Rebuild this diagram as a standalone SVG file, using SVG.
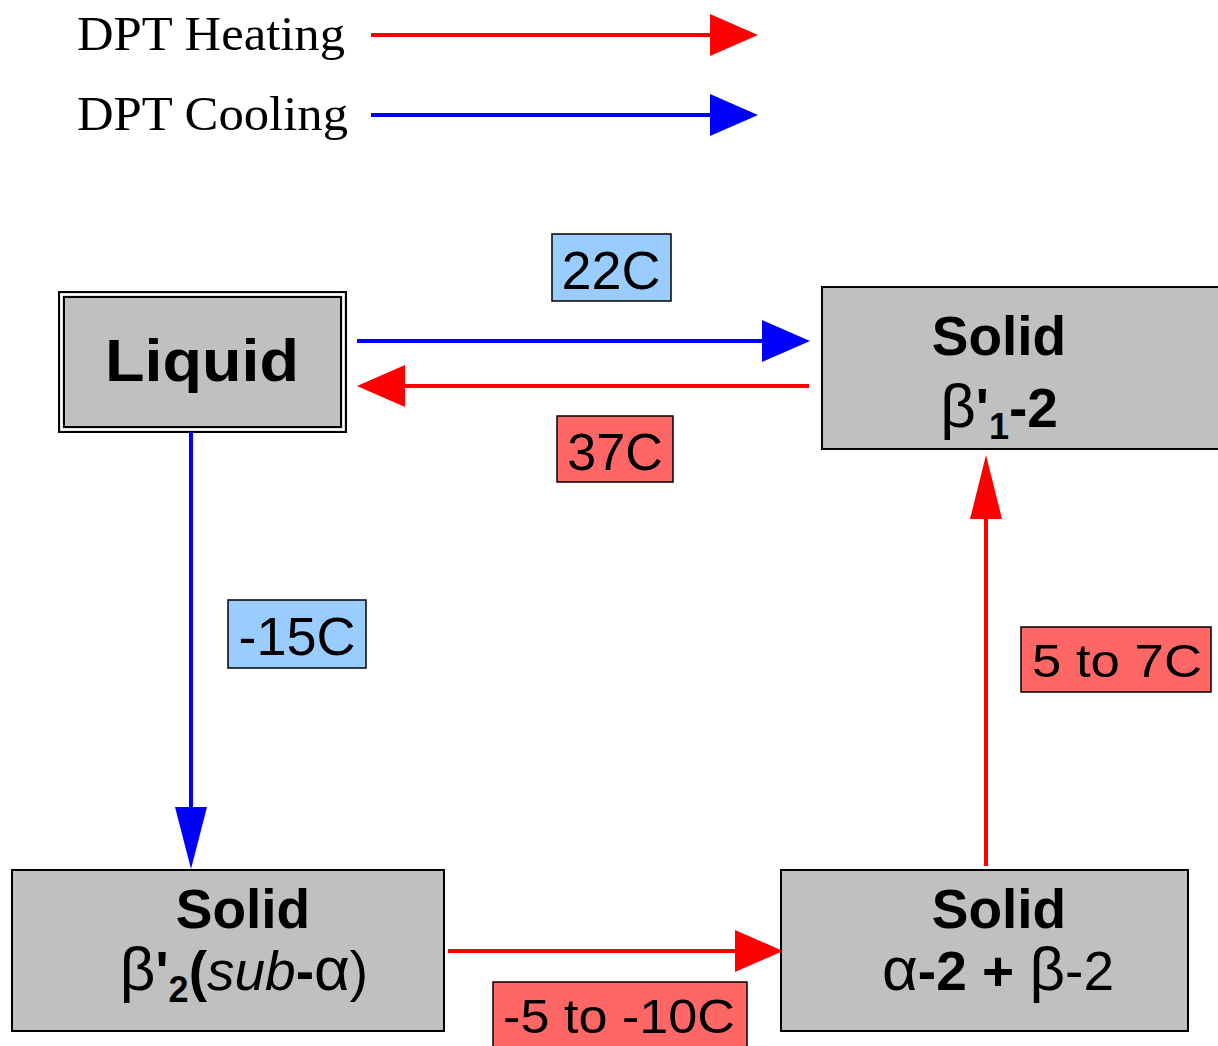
<svg xmlns="http://www.w3.org/2000/svg" width="1218" height="1046" viewBox="0 0 1218 1046">
<style>
.node{fill:#c0c0c0;stroke:#000;stroke-width:2}
.lbl{stroke:#000;stroke-width:1.5}
.blue{fill:#99ccff}
.red{fill:#ff6666}
.t{font-family:"Liberation Sans",Arial,sans-serif;fill:#000}
.b{font-weight:bold}
.g{font-size:62px}
.legend{font-family:"Liberation Serif","Times New Roman",serif;font-size:48px;fill:#000}
.ch{fill:none;stroke:#ff0000;stroke-width:4}
.cc{fill:none;stroke:#0000ff;stroke-width:4}
</style>
<defs>
<marker id="hr" markerUnits="userSpaceOnUse" markerWidth="48" markerHeight="42" viewBox="0 0 48 42" refX="0" refY="21" orient="auto"><path d="M0,0 L48,21 L0,42 Z" fill="#ff0000"/></marker>
<marker id="hb" markerUnits="userSpaceOnUse" markerWidth="48" markerHeight="42" viewBox="0 0 48 42" refX="0" refY="21" orient="auto"><path d="M0,0 L48,21 L0,42 Z" fill="#0000ff"/></marker>
<marker id="sr" markerUnits="userSpaceOnUse" markerWidth="64" markerHeight="32" viewBox="0 0 64 32" refX="0" refY="16" orient="auto"><path d="M0,0 L64,16 L0,32 Z" fill="#ff0000"/></marker>
<marker id="sb" markerUnits="userSpaceOnUse" markerWidth="62" markerHeight="32" viewBox="0 0 62 32" refX="0" refY="16" orient="auto"><path d="M0,0 L62,16 L0,32 Z" fill="#0000ff"/></marker>
</defs>
<rect width="1218" height="1046" fill="#fff"/>

<g id="legend">
<text class="legend" x="77" y="50" textLength="268" lengthAdjust="spacingAndGlyphs">DPT Heating</text>
<text class="legend" x="77" y="130" textLength="271" lengthAdjust="spacingAndGlyphs">DPT Cooling</text>
<line class="ch" x1="371" y1="35" x2="710" y2="35" marker-end="url(#hr)"/>
<line class="cc" x1="371" y1="115" x2="710" y2="115" marker-end="url(#hb)"/>
</g>

<g id="node-liquid">
<rect x="59" y="292" width="287" height="140" fill="#c0c0c0" stroke="#000" stroke-width="2"/>
<rect x="61.5" y="294.5" width="282" height="135" fill="none" stroke="#fff" stroke-width="2"/>
<rect x="64" y="297" width="277" height="130" fill="none" stroke="#000" stroke-width="2"/>
<text class="t b" x="105" y="381" font-size="60" textLength="194" lengthAdjust="spacingAndGlyphs">Liquid</text>
</g>

<g id="node-beta1">
<rect class="node" x="822" y="287" width="410" height="162"/>
<text class="t b" x="999" y="355" font-size="55" text-anchor="middle">Solid</text>
<text class="t" x="999" y="427" font-size="55" text-anchor="middle"><tspan class="g">β</tspan><tspan class="b">'</tspan><tspan class="b" font-size="36" dy="12">1</tspan><tspan class="b" dy="-12">-2</tspan></text>
</g>

<g id="node-beta2">
<rect class="node" x="12" y="870" width="432" height="161"/>
<text class="t b" x="243" y="928" font-size="55" text-anchor="middle">Solid</text>
<text class="t" x="244" y="990" font-size="55" text-anchor="middle"><tspan class="g">β</tspan><tspan class="b">'</tspan><tspan class="b" font-size="36" dy="12">2</tspan><tspan class="b" dy="-12">(</tspan><tspan font-style="italic">sub</tspan><tspan class="b">-</tspan><tspan class="g">α</tspan>)</text>
</g>

<g id="node-alpha">
<rect class="node" x="781" y="870" width="407" height="161"/>
<text class="t b" x="999" y="928" font-size="55" text-anchor="middle">Solid</text>
<text class="t" x="998" y="990" font-size="55" text-anchor="middle"><tspan class="g">α</tspan><tspan class="b">-2 + </tspan><tspan class="g">β</tspan>-2</text>
</g>

<g id="connectors">
<line class="cc" x1="357" y1="341" x2="762" y2="341" marker-end="url(#hb)"/>
<line class="ch" x1="809" y1="386" x2="405" y2="386" marker-end="url(#hr)"/>
<line class="cc" x1="191" y1="432" x2="191" y2="807" marker-end="url(#sb)"/>
<line class="ch" x1="448" y1="951" x2="735" y2="951" marker-end="url(#hr)"/>
<line class="ch" x1="986" y1="866" x2="986" y2="519" marker-end="url(#sr)"/>
</g>

<g id="labels">
<g id="lbl-22C"><rect class="lbl blue" x="552" y="234" width="119" height="67"/><text class="t" x="611" y="289" font-size="54" text-anchor="middle">22C</text></g>
<g id="lbl-37C"><rect class="lbl red" x="557" y="416" width="116" height="66"/><text class="t" x="615" y="470" font-size="52" text-anchor="middle">37C</text></g>
<g id="lbl-15C"><rect class="lbl blue" x="228" y="600" width="138" height="68"/><text class="t" x="297" y="655" font-size="54" text-anchor="middle">-15C</text></g>
<g id="lbl-5to7C"><rect class="lbl red" x="1021" y="627" width="190" height="65"/><text class="t" x="1032" y="677" font-size="46" textLength="170" lengthAdjust="spacingAndGlyphs">5 to 7C</text></g>
<g id="lbl-5to10C"><rect class="lbl red" x="493" y="982" width="254" height="70"/><text class="t" x="503" y="1033" font-size="49" textLength="232" lengthAdjust="spacingAndGlyphs">-5 to -10C</text></g>
</g>
</svg>
